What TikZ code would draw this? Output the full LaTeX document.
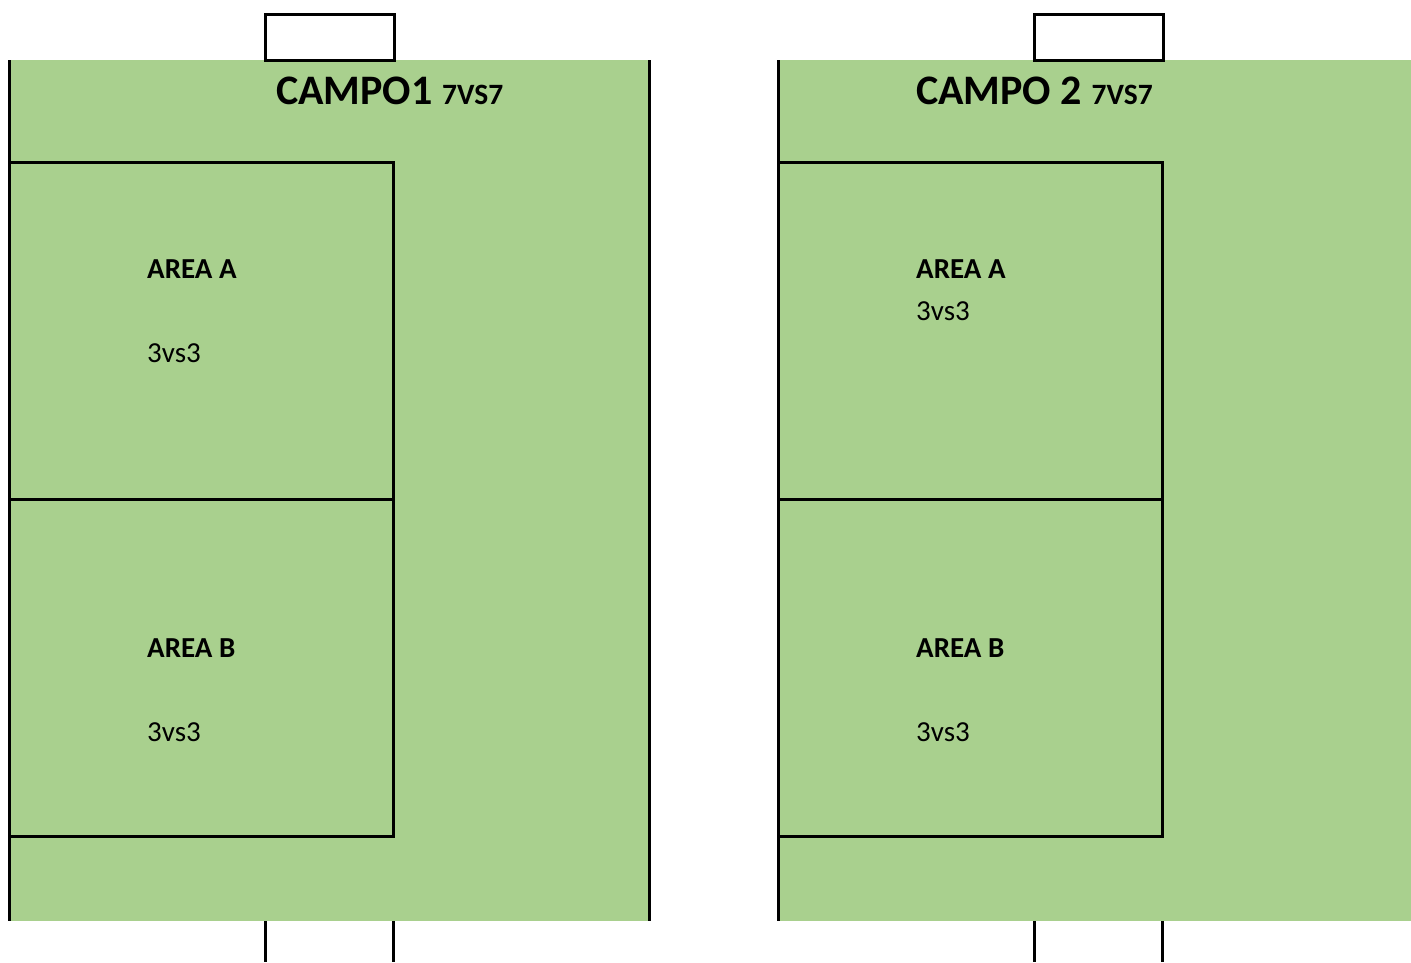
\documentclass[tikz,border=0pt]{standalone}
\usepackage{fontspec}
\setmainfont{Carlito}
\definecolor{pitch}{HTML}{A9D08E}
\tikzset{
  line/.style={line width=3pt, black},
  title/.style={anchor=base west, inner sep=0pt, font=\fontsize{42}{50}\selectfont\bfseries},
  arealabel/.style={anchor=base west, inner sep=0pt, font=\fontsize{29}{35}\selectfont\bfseries},
  playlabel/.style={anchor=base west, inner sep=0pt, font=\fontsize{29}{35}\selectfont},
}
\newcommand{\subsize}{\fontsize{29.5}{35}\selectfont\bfseries}
\begin{document}
\begin{tikzpicture}[x=1pt,y=-1pt]
\useasboundingbox (0,0) rectangle (1411,962);

% pitch surfaces
\fill[pitch] (9,60) rectangle (650,921);
\fill[pitch] (777,60) rectangle (1411,921);

% field 1
\draw[line] (9,60) -- (9,921);
\draw[line] (649,60) -- (649,921);
\draw[line] (265,60) rectangle (394,14);
\draw[line] (265,921) -- (265,962);
\draw[line] (393,921) -- (393,962);
\draw[line] (9,162) -- (393,162) -- (393,836) -- (9,836);
\draw[line] (9,499) -- (393,499);

% field 2
\draw[line] (778,60) -- (778,921);
\draw[line] (1034,60) rectangle (1163,14);
\draw[line] (1034,921) -- (1034,962);
\draw[line] (1162,921) -- (1162,962);
\draw[line] (778,162) -- (1162,162) -- (1162,836) -- (778,836);
\draw[line] (778,499) -- (1162,499);

% labels, field 1
\node[title] (t1) at (276,104) {CAMPO1 {\subsize 7VS7}};
\node[arealabel] (a1) at (147,278) {AREA A};
\node[playlabel] (a1n) at (147,362) {3vs3};
\node[arealabel] (b1) at (147,657) {AREA B};
\node[playlabel] (b1n) at (147,741) {3vs3};

% labels, field 2
\node[title] (t2) at (916,104) {CAMPO 2 {\subsize 7VS7}};
\node[arealabel] (a2) at (916,278) {AREA A};
\node[playlabel] (a2n) at (916,320) {3vs3};
\node[arealabel] (b2) at (916,657) {AREA B};
\node[playlabel] (b2n) at (916,741) {3vs3};
\end{tikzpicture}
\end{document}
